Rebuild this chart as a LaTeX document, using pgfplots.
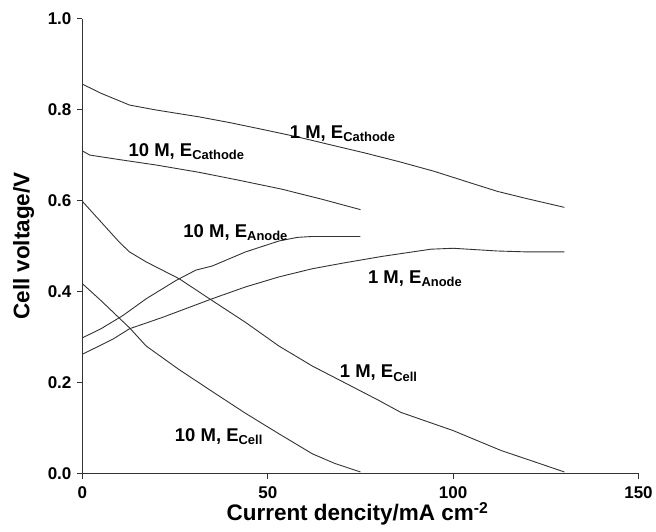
\documentclass[border=0pt]{standalone}
\usepackage{pgfplots}
\pgfplotsset{compat=1.18}
\usepackage{fontspec}
\setmainfont{Liberation Sans}
\begin{document}
\begin{tikzpicture}
\begin{axis}[
  width=556.5pt, height=455pt, scale only axis,
  xmin=0, xmax=150, ymin=0, ymax=1.0,
  axis x line=bottom, axis y line=left,
  axis line style={-, black!80, line width=1pt},
  tick align=outside, major tick length=5.5pt,
  tick style={black!80, line width=1pt},
  xtick={0,50,100,150}, ytick={0,0.2,0.4,0.6,0.8,1.0},
  yticklabel style={xshift=-2pt, /pgf/number format/.cd, fixed, fixed zerofill, precision=1},
  /pgf/number format/assume math mode=true,
  ticklabel style={font=\fontsize{17}{19}\selectfont\bfseries},
  xticklabel style={yshift=-4pt},
  xlabel={Current dencity/mA cm\textsuperscript{-2}},
  ylabel={Cell voltage/V},
  label style={font=\fontsize{22.5}{26}\selectfont\bfseries, inner sep=0pt},
  xlabel style={at={(axis description cs:0.5,0)}, anchor=base, yshift=-47.5pt, xshift=-3pt},
  ylabel style={at={(axis description cs:0,0.5)}, anchor=north, yshift=69.5pt},
  clip=false,
]
% 1 M, E_Cathode
\addplot[black!80, line width=0.9pt] coordinates {(0,0.856)(5,0.836)(12.7,0.810)(20,0.799)(31.5,0.784)(40,0.771)(49.4,0.755)(58,0.740)(67.2,0.722)(76,0.705)(85.2,0.686)(95,0.664)(105,0.638)(112,0.620)(120,0.604)(130,0.585)};
% 10 M, E_Cathode
\addplot[black!80, line width=0.9pt] coordinates {(0,0.709)(2,0.700)(10,0.690)(20,0.678)(31.5,0.662)(42,0.645)(53.8,0.625)(65,0.602)(75,0.580)};
% 10 M, E_Anode
\addplot[black!80, line width=0.9pt] coordinates {(0,0.298)(5,0.318)(10.9,0.347)(17.2,0.384)(25.2,0.424)(30.6,0.447)(35,0.456)(44,0.487)(53,0.511)(58,0.519)(62,0.521)(75,0.521)};
% 1 M, E_Anode
\addplot[black!80, line width=0.9pt] coordinates {(0,0.262)(8.2,0.295)(12.7,0.318)(21.6,0.343)(35,0.384)(44,0.410)(53,0.432)(62,0.450)(70,0.462)(80.7,0.477)(94,0.493)(100,0.495)(112,0.489)(120,0.487)(130,0.487)};
% 1 M, E_Cell
\addplot[black!80, line width=0.9pt] coordinates {(0,0.598)(5,0.553)(10,0.508)(12.7,0.487)(17.2,0.465)(26.1,0.428)(35,0.380)(44,0.332)(53,0.280)(62,0.236)(70.8,0.199)(79.8,0.161)(85.9,0.134)(100,0.094)(113,0.050)(121,0.028)(130,0.003)};
% 10 M, E_Cell
\addplot[black!80, line width=0.9pt] coordinates {(0,0.417)(5,0.380)(12.7,0.320)(17.2,0.280)(26.1,0.228)(35,0.180)(44,0.132)(53,0.087)(62,0.043)(68,0.022)(75,0.003)};

\begin{scope}[every node/.style={font=\fontsize{18.5}{21}\selectfont\bfseries, inner sep=0pt}]
\node[anchor=base west] at (axis cs:55.9,0.737) {1 M, E\textsubscript{Cathode}};
\node[anchor=base west] at (axis cs:12.4,0.697) {10 M, E\textsubscript{Cathode}};
\node[anchor=base west] at (axis cs:27.2,0.519) {10 M, E\textsubscript{Anode}};
\node[anchor=base west] at (axis cs:77,0.418) {1 M, E\textsubscript{Anode}};
\node[anchor=base west] at (axis cs:69.4,0.210) {1 M, E\textsubscript{Cell}};
\node[anchor=base west] at (axis cs:24.9,0.070) {10 M, E\textsubscript{Cell}};
\end{scope}
\end{axis}
\path ([xshift=-82.5pt,yshift=-58.3pt]current axis.south west) rectangle ([xshift=17pt,yshift=18.7pt]current axis.north east);
\end{tikzpicture}
\end{document}
